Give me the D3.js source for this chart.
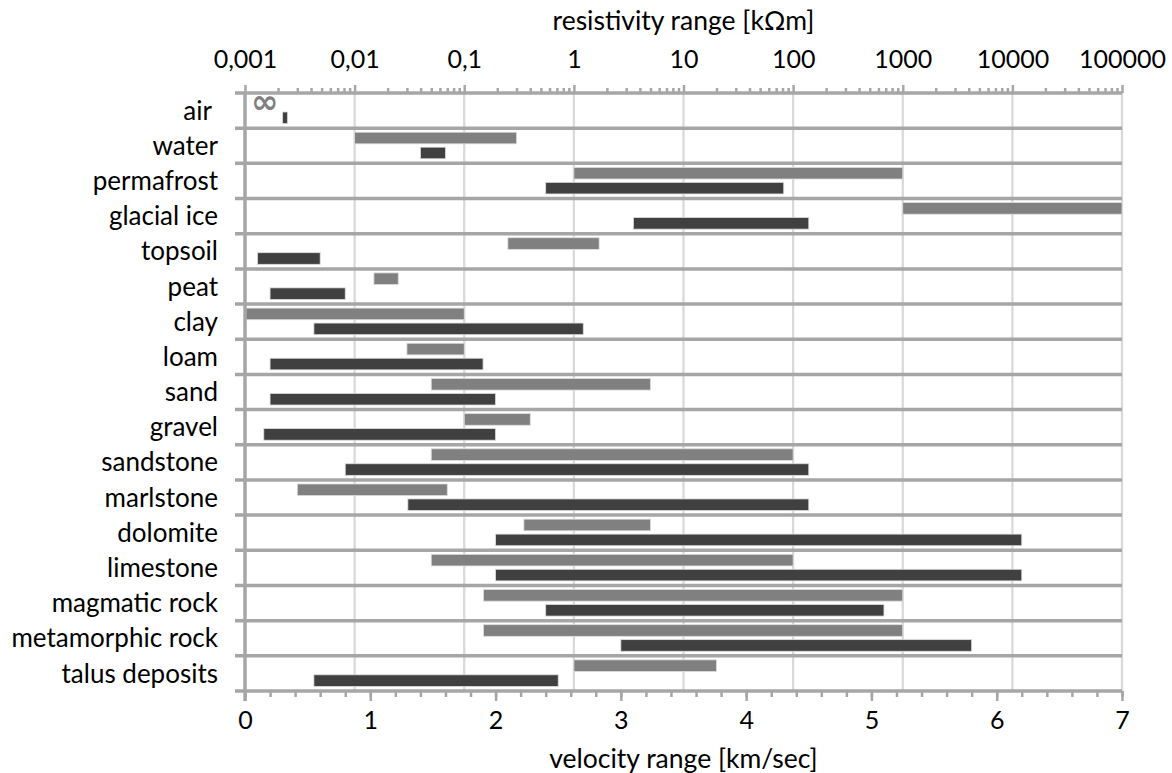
<!DOCTYPE html>
<html>
<head>
<meta charset="utf-8">
<script src="https://cdn.jsdelivr.net/npm/d3@7"></script>
<style>
  body { margin: 0; background: #fff; }
  svg text { font-family: Lato, "Open Sans", sans-serif; fill: #000; }
</style>
</head>
<body>
<div id="chart"></div>
<script>
// materials, top to bottom
const categories = ["air ", "water", "permafrost", "glacial ice", "topsoil", "peat", "clay", "loam", "sand",
  "gravel", "sandstone", "marlstone", "dolomite", "limestone", "magmatic rock", "metamorphic rock", "talus deposits"];

// resistivity range [kOhm m] (light bars, top log axis); air is infinite
const resMin = [null, 0.01, 1, 1000, 0.25, 0.015, 0.001, 0.03, 0.05, 0.1, 0.05, 0.003, 0.35, 0.05, 0.15, 0.15, 1];
const resMax = [null, 0.3, 1000, 100000, 1.7, 0.025, 0.1, 0.1, 5, 0.4, 100, 0.07, 5, 100, 1000, 1000, 20];

// velocity range [km/sec] (dark bars, bottom linear axis)
const velMin = [0.3, 1.4, 2.4, 3.1, 0.1, 0.2, 0.55, 0.2, 0.2, 0.15, 0.8, 1.3, 2.0, 2.0, 2.4, 3.0, 0.55];
const velMax = [0.34, 1.6, 4.3, 4.5, 0.6, 0.8, 2.7, 1.9, 2.0, 2.0, 4.5, 4.5, 6.2, 6.2, 5.1, 5.8, 2.5];

const resTicks = [0.001, 0.01, 0.1, 1, 10, 100, 1000, 10000, 100000];
const resTickLabels = ["0,001", "0,01", "0,1", "1", "10", "100", "1000", "10000", "100000"];
const velTicks = [0, 1, 2, 3, 4, 5, 6, 7];

const rows = categories.map((c, i) => ({
  name: c, rMin: resMin[i], rMax: resMax[i], vMin: velMin[i], vMax: velMax[i]
}));

const W = 1172, H = 773;
const margin = {top: 93, right: 50, bottom: 82, left: 245};
const width = W - margin.left - margin.right,
  height = H - margin.top - margin.bottom;

const axisColor = "#a6a6a6";

const svg = d3.select("#chart").append("svg")
  .attr("width", W)
  .attr("height", H)
  .append("g")
  .attr("transform", `translate(${margin.left}, ${margin.top})`);

const xRes = d3.scaleLog().domain([0.001, 100000]).range([0, width]);
const xVel = d3.scaleLinear().domain([0, 7]).range([0, width]);
const yScale = d3.scaleBand().domain(categories).range([0, height]);
const bw = yScale.bandwidth();

// vertical gridlines at each decade
svg.append("g")
  .selectAll("line")
  .data(resTicks.slice(1))
  .join("line")
  .attr("x1", d => xRes(d)).attr("x2", d => xRes(d))
  .attr("y1", 0).attr("y2", height)
  .attr("stroke", "#d9d9d9")
  .attr("stroke-width", 2.3);

// row separators (extend a bit left of the axis)
svg.append("g")
  .selectAll("line")
  .data(categories.slice(1))
  .join("line")
  .attr("x1", -10).attr("x2", width)
  .attr("y1", d => yScale(d)).attr("y2", d => yScale(d))
  .attr("stroke", axisColor)
  .attr("stroke-width", 3.5);

// resistivity bars
svg.append("g")
  .selectAll("rect")
  .data(rows.filter(d => d.rMin !== null))
  .join("rect")
  .attr("x", d => xRes(d.rMin))
  .attr("width", d => xRes(d.rMax) - xRes(d.rMin))
  .attr("y", d => yScale(d.name) + bw * 0.115)
  .attr("height", bw * 0.33)
  .attr("fill", "#808080")
  .attr("stroke", "#dcdcdc")
  .attr("stroke-width", 0.8);

// velocity bars
svg.append("g")
  .selectAll("rect")
  .data(rows)
  .join("rect")
  .attr("x", d => xVel(d.vMin))
  .attr("width", d => xVel(d.vMax) - xVel(d.vMin))
  .attr("y", d => yScale(d.name) + bw * 0.54)
  .attr("height", bw * 0.33)
  .attr("fill", "#404040")
  .attr("stroke", "#dcdcdc")
  .attr("stroke-width", 0.8);

// infinite resistivity of air
svg.append("text")
  .attr("x", 6)
  .attr("y", yScale("air ") + bw * 0.58)
  .style("font-family", "'DejaVu Sans'")
  .style("font-size", "33px")
  .style("font-weight", "bold")
  .style("fill", "#808080")
  .text("∞");

// top log axis
const minorRes = [];
resTicks.slice(0, -1).forEach(t => d3.range(2, 10).forEach(k => minorRes.push(t * k)));

svg.append("g")
  .attr("class", "axis minor")
  .call(d3.axisTop(xRes).tickValues(minorRes).tickSize(5).tickFormat(""));

svg.append("g")
  .attr("class", "axis top")
  .call(d3.axisTop(xRes).tickValues(resTicks).tickSize(8).tickPadding(17)
    .tickFormat((d, i) => resTickLabels[i]));

// bottom linear axis
svg.append("g")
  .attr("class", "axis minor")
  .attr("transform", `translate(0, ${height})`)
  .call(d3.axisBottom(xVel).tickValues(d3.range(0, 7.01, 0.2)).tickSize(6).tickFormat(""));

svg.append("g")
  .attr("class", "axis bottom")
  .attr("transform", `translate(0, ${height})`)
  .call(d3.axisBottom(xVel).tickValues(velTicks).tickSize(10).tickPadding(10).tickFormat(d3.format("d")));

// left category axis
svg.append("g")
  .attr("class", "axis left")
  .call(d3.axisLeft(yScale).tickSize(0).tickPadding(27));

svg.selectAll(".axis path.domain").remove();
svg.selectAll(".axis line").attr("stroke", axisColor).attr("stroke-width", 2.5);
svg.selectAll(".axis text").style("font-size", "25px").style("font-family", "Lato").attr("fill", "#000");
svg.selectAll(".axis.left text").style("font-size", "26px").style("white-space", "pre").attr("dy", "0.35em");

// axis frame lines
[[-10, 0, width, 0], [-10, height, width, height], [0, 0, 0, height + 10]].forEach(l => {
  svg.append("line")
    .attr("x1", l[0]).attr("y1", l[1]).attr("x2", l[2]).attr("y2", l[3])
    .attr("stroke", axisColor)
    .attr("stroke-width", 3.5);
});

// axis titles
svg.append("text")
  .attr("x", width / 2).attr("y", -63)
  .attr("text-anchor", "middle")
  .style("font-size", "26.5px")
  .text("resistivity range [kΩm]");

svg.append("text")
  .attr("x", width / 2).attr("y", height + 77)
  .attr("text-anchor", "middle")
  .style("font-size", "26.5px")
  .text("velocity range [km/sec]");
</script>
</body>
</html>
